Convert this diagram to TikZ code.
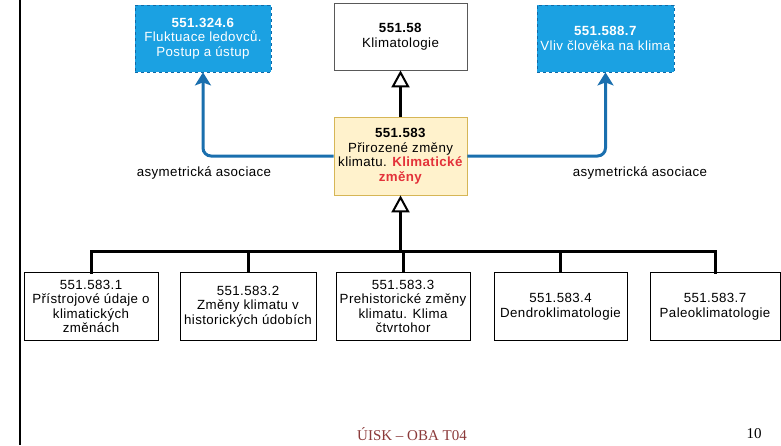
\documentclass[tikz,border=0pt]{standalone}
\usepackage{fontspec}
\setmainfont{Liberation Sans}[LetterSpace=3]
\newfontfamily\footfont{Liberation Serif}
\usetikzlibrary{arrows.meta}
\definecolor{bluefill}{HTML}{1BA1E2}
\definecolor{blueedge}{HTML}{0F6AA8}
\definecolor{blueline}{HTML}{1A6FAE}
\definecolor{yelfill}{HTML}{FFF2CC}
\definecolor{yeledge}{HTML}{D6B656}
\definecolor{redtxt}{HTML}{E3323A}
\definecolor{foot}{HTML}{8B3A3A}
\tikzset{
  box/.style={draw=black, line width=0.8pt, fill=white, align=center, inner sep=0pt,
    font=\fontsize{13.3}{14.5}\selectfont},
  topbox/.style={box, draw=black!65},
  bluebox/.style={box, fill=bluefill, draw=blueedge, dashed, text=white},
  yelbox/.style={box, fill=yelfill, draw=yeledge},
  blackconn/.style={line width=3pt, black},
  openarrow/.style={-{Triangle[open, length=17pt, width=18pt, line width=2pt]}},
  blueconn/.style={line width=3pt, blueline, rounded corners=8pt,
    -{Stealth[length=13pt, width=16pt, inset=3pt]}},
  lbl/.style={font=\fontsize{13.3}{14.5}\selectfont, inner sep=0pt},
}
\begin{document}
\begin{tikzpicture}[x=1pt, y=-1pt]
\useasboundingbox (0,0) rectangle (781,445);
\draw[line width=2.5pt] (20,0) -- (20,445);

\node[bluebox, minimum width=136pt, minimum height=67pt] (lb) at (203,38.5)
  {\textbf{551.324.6}\\Fluktuace ledovců.\\Postup a ústup};
\node[topbox, minimum width=133pt, minimum height=67pt] (mid) at (400.5,36.5)
  {\textbf{551.58}\\Klimatologie};
\node[bluebox, minimum width=137pt, minimum height=67pt] (rb) at (605.5,38.5)
  {\textbf{551.588.7}\\Vliv člověka na klima};
\node[yelbox, minimum width=133pt, minimum height=78pt] (yel) at (400.5,156)
  {\textbf{551.583}\\Přirozené změny\\klimatu. \textcolor{redtxt}{\textbf{Klimatické}}\\\textcolor{redtxt}{\textbf{změny}}};

\node[lbl] (la) at (204,173) {asymetrická asociace};
\node[lbl] (ra) at (640,173) {asymetrická asociace};

\node[box, minimum width=134pt, minimum height=68pt] (b1) at (91,306.5)
  {551.583.1\\Přístrojové údaje o\\klimatických\\změnách};
\node[box, minimum width=136pt, minimum height=68pt] (b2) at (248,306.5)
  {551.583.2\\Změny klimatu v\\historických údobích};
\node[box, minimum width=134pt, minimum height=68pt] (b3) at (403,306.5)
  {551.583.3\\Prehistorické změny\\klimatu. Klima\\čtvrtohor};
\node[box, minimum width=133pt, minimum height=68pt] (b4) at (560.5,306.5)
  {551.583.4\\Dendroklimatologie};
\node[box, minimum width=130pt, minimum height=68pt] (b5) at (715,306.5)
  {551.583.7\\Paleoklimatologie};

\coordinate (bus) at (400.5,251);
\draw[blackconn, openarrow] (yel.north) -- (mid.south);
\draw[blackconn, openarrow] (bus) -- (yel.south);
\draw[blackconn, line cap=rect] (b1.north) |- (bus);
\draw[blackconn, line cap=rect] (b5.north) |- (bus);
\draw[blackconn] (b2.north) -- (b2.north |- bus);
\draw[blackconn] (b3.north) -- (b3.north |- bus);
\draw[blackconn] (b4.north) -- (b4.north |- bus);

\draw[blueconn] (yel.west) -| (lb.south);
\draw[blueconn] (yel.east) -| (rb.south);

\node[font=\footfont\fontsize{15}{17}\selectfont, text=foot, inner sep=0pt] (ft) at (412,434) {ÚISK – OBA T04};
\node[font=\footfont\fontsize{15}{17}\selectfont, text=black, inner sep=0pt] (pg) at (754,434) {10};
\end{tikzpicture}
\end{document}
